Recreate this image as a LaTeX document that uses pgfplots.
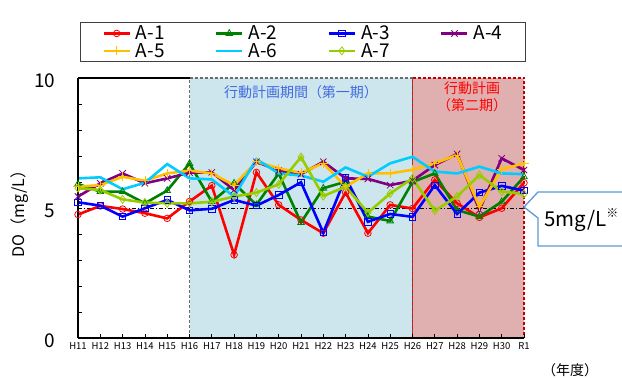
\documentclass[border=0pt]{standalone}
\usepackage{fontspec}
\setmainfont{Noto Sans CJK JP}
\usepackage{pgfplots}
\usepackage{pgfplotstable}
\pgfplotsset{compat=1.18}
\definecolor{c1}{RGB}{255,0,0}
\definecolor{c2}{RGB}{0,128,0}
\definecolor{c3}{RGB}{0,0,255}
\definecolor{c4}{RGB}{128,0,128}
\definecolor{c5}{RGB}{255,192,0}
\definecolor{c6}{RGB}{0,204,255}
\definecolor{c7}{RGB}{153,204,0}
\definecolor{bluefill}{RGB}{205,230,237}
\definecolor{pinkfill}{RGB}{224,176,176}
\definecolor{txtblue}{RGB}{65,105,225}
\definecolor{callout}{RGB}{91,155,213}

\pgfplotstableread{
x  a1   a2   a3   a4   a5   a6   a7
0  4.75 5.92 5.22 5.44 5.82 6.14 5.76
1  5.08 5.63 5.09 5.95 5.88 6.18 5.69
2  4.96 5.63 4.67 6.33 6.20 5.72 5.33
3  4.80 5.18 4.99 5.95 6.05 5.97 5.21
4  4.60 5.67 5.31 6.14 6.33 6.69 5.18
5  5.25 6.71 4.91 6.36 6.44 6.14 5.18
6  5.86 5.24 4.97 6.37 6.33 6.10 5.24
7  3.20 5.95 5.31 5.69 5.88 5.44 5.44
8  6.37 5.12 5.09 6.78 6.78 6.88 5.59
9  5.12 6.33 5.50 6.43 6.53 6.33 5.91
10 4.54 4.44 5.99 6.30 6.35 6.25 6.96
11 4.03 5.76 4.05 6.78 6.72 6.01 5.46
12 5.60 6.01 6.18 6.14 5.82 6.56 5.82
13 4.03 4.67 4.47 6.12 6.33 6.20 4.82
14 5.12 4.50 4.77 5.88 6.33 6.72 5.56
15 4.98 6.00 4.66 6.05 6.47 6.97 6.14
16 6.08 6.33 5.88 6.65 6.72 6.40 4.90
17 5.18 4.92 4.77 7.08 7.04 6.33 5.44
18 4.64 4.67 5.59 4.92 5.05 6.59 6.27
19 4.99 5.24 5.85 6.91 6.49 6.33 5.63
20 5.97 6.20 5.67 6.46 6.72 6.30 5.54
}\datatable

\begin{document}
\begin{tikzpicture}
\useasboundingbox (0,0) rectangle (622pt,378pt);
\begin{axis}[
  at={(78pt,40pt)}, anchor=south west,
  scale only axis, width=446pt, height=260pt,
  xmin=0, xmax=20, ymin=0, ymax=10,
  axis lines*=left,
  axis line style={-, line width=1.2pt, black},
  axis on top=true,
  xtick={0,...,20},
  xticklabels={H11,H12,H13,H14,H15,H16,H17,H18,H19,H20,H21,H22,H23,H24,H25,H26,H27,H28,H29,H30,R1},
  ytick={0,...,10},
  yticklabels={0,,,,,5,,,,,10},
  tick align=inside, major tick length=4pt,
  tick style={black, line width=0.8pt},
  /pgf/number format/assume math mode=true,
  xticklabel style={font=\fontsize{9.5}{10}\selectfont, inner xsep=0pt, yshift=-1pt},
  yticklabel style={font=\fontsize{19}{19}\selectfont, xshift=-19pt, yshift=-3pt},
  clip=false,
  legend image code/.code={\draw[mark repeat=2,mark phase=2,#1] plot coordinates {(0pt,0pt) (13pt,0pt) (26pt,0pt)};},
  legend style={at={(0,1)}, anchor=south west, xshift=2pt, yshift=16pt,
    legend columns=4, draw=black!75, line width=0.8pt,
    font=\fontsize{19}{19}\selectfont,
    inner xsep=22pt, inner ysep=2pt,
    nodes={inner sep=1pt},
    /tikz/every odd column/.append style={column sep=4pt},
    /tikz/every even column/.append style={column sep=18pt}},
  every axis plot/.append style={line width=2.6pt},
]
\fill[bluefill] (axis cs:5,0) rectangle (axis cs:15,10);
\fill[pinkfill] (axis cs:15,0) rectangle (axis cs:20,10);
\draw[black, line width=1.2pt] (axis cs:0,10) -- (axis cs:5,10);
\draw[gray!85!black, dash pattern=on 3pt off 2pt, line width=1.4pt] (axis cs:5,0) -- (axis cs:5,10) -- (axis cs:15,10);
\draw[red!75!black, dash pattern=on 3pt off 2pt, line width=1.2pt] (axis cs:15,10) -- (axis cs:20,10) -- (axis cs:20,0);
\draw[gray!70!black, dash pattern=on 3pt off 3pt, line width=1.3pt] (axis cs:15,0) -- (axis cs:15,10);
\draw[red, dash pattern=on 3pt off 3pt, dash phase=3pt, line width=1.3pt] (axis cs:15,0) -- (axis cs:15,10);
\addplot[black, line width=0.8pt, dash pattern=on 4pt off 2pt on 1pt off 2pt, forget plot] coordinates {(0,5) (20,5)};
\node[text=txtblue, font=\fontsize{14}{14}\selectfont] at (axis cs:10,9.46) {行動計画期間（第一期）};
\node[text=red, font=\fontsize{14}{17}\selectfont, align=center] at (axis cs:17.67,9.27) {行動計画\\（第二期）};

\addplot[c1, mark=o, mark size=3.3pt, mark options={line width=0.8pt, fill=none}] table[x=x, y=a1] {\datatable};
\addlegendentry{\makebox[60pt][l]{A-1}}
\addplot[c2, mark=triangle, mark size=3.8pt, mark options={line width=0.8pt, fill=none}] table[x=x, y=a2] {\datatable};
\addlegendentry{\makebox[60pt][l]{A-2}}
\addplot[c3, mark=square, mark size=3.2pt, mark options={line width=0.8pt, fill=none}] table[x=x, y=a3] {\datatable};
\addlegendentry{\makebox[60pt][l]{A-3}}
\addplot[c4, mark=x, mark size=4.5pt, mark options={line width=0.8pt}] table[x=x, y=a4] {\datatable};
\addlegendentry{A-4}
\addplot[c5, mark=+, mark size=4.5pt, mark options={line width=0.8pt}] table[x=x, y=a5] {\datatable};
\addlegendentry{\makebox[60pt][l]{A-5}}
\addplot[c6, no markers] table[x=x, y=a6] {\datatable};
\addlegendentry{\makebox[60pt][l]{A-6}}
\addplot[c7, mark=diamond, mark size=4pt, mark options={line width=0.8pt, fill=none}] table[x=x, y=a7] {\datatable};
\addlegendentry{\makebox[60pt][l]{A-7}}
\end{axis}
\node[rotate=90, font=\fontsize{16}{16}\selectfont] at (20pt,168pt) {DO（mg/L）};
\node[font=\fontsize{14}{14}\selectfont] at (570pt,8pt) {（年度）};
\draw[callout, line width=1.3pt, fill=white] (538pt,186pt) -- (640pt,186pt) -- (640pt,132pt) -- (538pt,132pt) -- (538pt,160pt) -- (524pt,171pt) -- cycle;
\node[anchor=base west, inner sep=0pt, font=\fontsize{20.5}{21}\selectfont] at (544pt,151pt) {5mg/L\raisebox{0.45em}{\fontsize{12}{12}\selectfont ※}};
\end{tikzpicture}
\end{document}
